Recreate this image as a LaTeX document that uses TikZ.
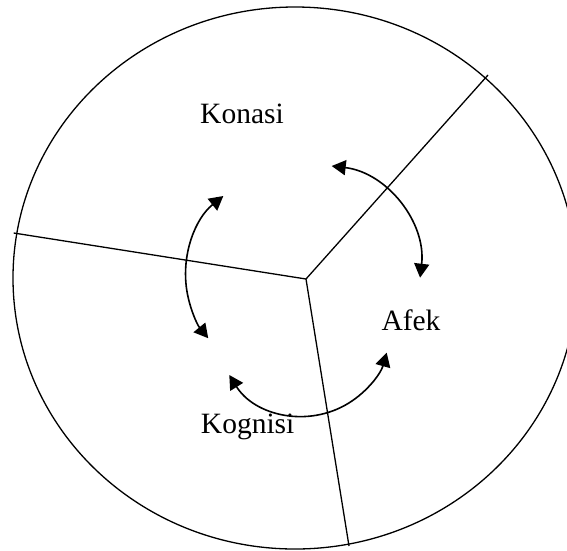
\documentclass[tikz,border=0pt]{standalone}
\usepackage{fontspec}
\setmainfont{Liberation Serif}
\usetikzlibrary{arrows.meta}
\begin{document}
\begin{tikzpicture}[x=1pt,y=1pt,
  ring/.style={draw=black,line width=1.3pt},
  divider/.style={draw=black,line width=1.3pt},
  cyc/.style={draw=black,line width=1.6pt,{Triangle[length=14pt,width=15pt]}-{Triangle[length=14pt,width=15pt]}},
  lbl/.style={font=\fontsize{29.5}{35}\selectfont,inner sep=0pt,anchor=base}]
\useasboundingbox (0,0) rectangle (567,-550);
\coordinate (O) at (295,-278);
\draw[ring] (O) ellipse[x radius=282,y radius=271];
\coordinate (C) at (306,-279);
\coordinate (L) at (13.7,-233);
\coordinate (R) at (488,-75);
\coordinate (B) at (349,-546);
\draw[divider] (C) -- (L);
\draw[divider] (C) -- (R);
\draw[divider] (C) -- (B);
\node[lbl] (konasi) at (242,-123) {Konasi};
\node[lbl] (afek) at (411,-330) {Afek};
\node[lbl] (kognisi) at (247.7,-433) {Kognisi};
\coordinate (a1) at (223.3,-196);
\coordinate (a2) at (331.7,-166);
\coordinate (a3) at (229.3,-375);
\draw[cyc] (a1) arc[start angle=128.7,end angle=219.2,radius=100.7];
\draw[cyc] (a2) arc[start angle=83.3,end angle=-6.6,radius=100.8];
\draw[cyc] (a3) arc[start angle=211.8,end angle=344.4,radius=86.8];
\end{tikzpicture}
\end{document}
